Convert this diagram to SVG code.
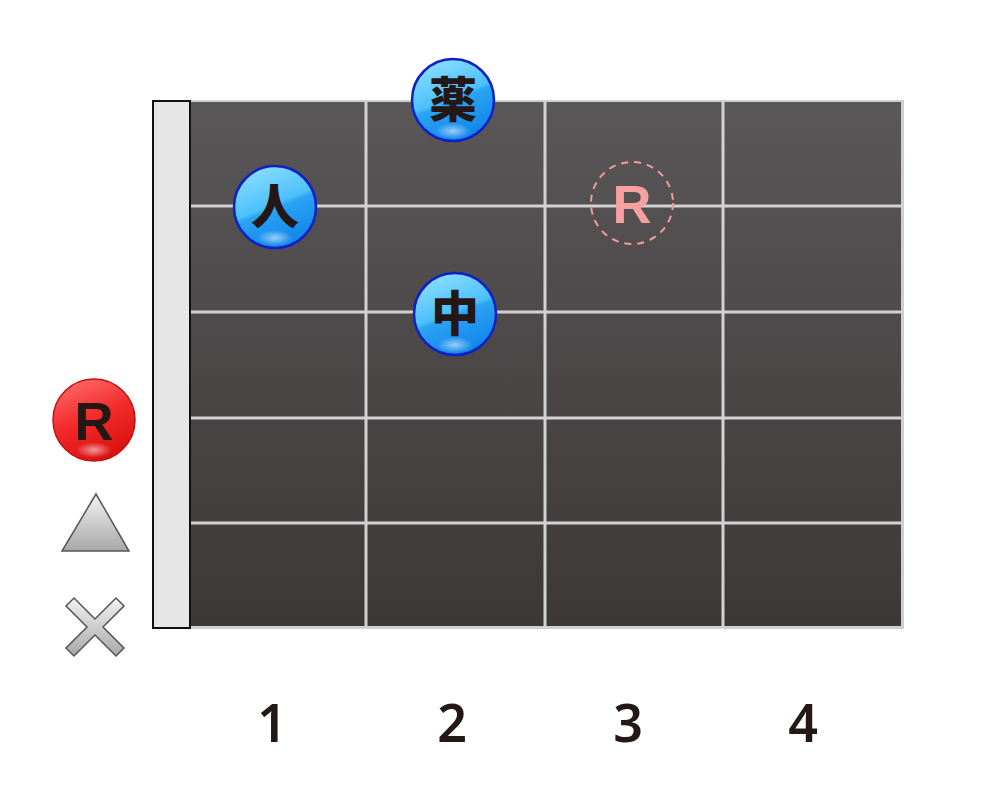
<svg xmlns="http://www.w3.org/2000/svg" width="1000" height="800" viewBox="0 0 1000 800">
<style>
.grid{stroke:#d2d2d2;stroke-width:3;fill:none}
.fing{fill:url(#blue);stroke:#1020c8;stroke-width:2.5}
.ft{font-family:"Noto Sans CJK JP","Noto Sans CJK SC",sans-serif;font-weight:900;font-size:48px;fill:#231815;text-anchor:middle}
.num{font-family:"Noto Sans","Liberation Sans",sans-serif;font-weight:600;font-size:52px;fill:#231815;text-anchor:middle}
.rt{font-family:"Liberation Sans",Arial,sans-serif;font-weight:bold;font-size:54px;text-anchor:middle}
</style>
<defs>
<linearGradient id="board" x1="0" y1="0" x2="0" y2="1">
<stop offset="0" stop-color="#5a5758"/>
<stop offset="1" stop-color="#3d3838"/>
</linearGradient>
<linearGradient id="blue" x1="0.2" y1="0" x2="0.6" y2="1">
<stop offset="0" stop-color="#8fe0ff"/>
<stop offset="0.5" stop-color="#4cc0fb"/>
<stop offset="0.55" stop-color="#2aa4f4"/>
<stop offset="1" stop-color="#1084ea"/>
</linearGradient>
<radialGradient id="glow" cx="0.5" cy="0.5" r="0.5">
<stop offset="0" stop-color="#ffffff" stop-opacity="0.55"/>
<stop offset="1" stop-color="#ffffff" stop-opacity="0"/>
</radialGradient>
<linearGradient id="red" x1="0.2" y1="0" x2="0.6" y2="1">
<stop offset="0" stop-color="#ff6a6a"/>
<stop offset="0.5" stop-color="#f22a2a"/>
<stop offset="1" stop-color="#d81010"/>
</linearGradient>
<linearGradient id="gray" x1="0" y1="0" x2="0" y2="1">
<stop offset="0" stop-color="#f2f2f2"/>
<stop offset="1" stop-color="#a8a8a8"/>
</linearGradient>
</defs>

<g id="board-g">
<rect x="188" y="100" width="716" height="529" fill="#cfcfcf"/>
<rect x="190" y="102" width="711" height="524" fill="url(#board)"/>
</g>
<g id="grid">
<line class="grid" x1="366" y1="100" x2="366" y2="629"/>
<line class="grid" x1="545" y1="100" x2="545" y2="629"/>
<line class="grid" x1="723" y1="100" x2="723" y2="629"/>
<line class="grid" x1="190" y1="206" x2="903" y2="206"/>
<line class="grid" x1="190" y1="312" x2="903" y2="312"/>
<line class="grid" x1="190" y1="418" x2="903" y2="418"/>
<line class="grid" x1="190" y1="523" x2="903" y2="523"/>
</g>
<g id="nut">
<rect x="153" y="101" width="37" height="527" fill="#e6e6e6" stroke="#111" stroke-width="2"/>
</g>

<g id="finger-hito">
<circle class="fing" cx="275" cy="207" r="41"/>
<ellipse cx="275" cy="238" rx="18" ry="8" fill="url(#glow)"/>
<text class="ft" x="275" y="224">人</text>
</g>
<g id="finger-kusuri">
<circle class="fing" cx="453" cy="100" r="41"/>
<ellipse cx="453" cy="131" rx="18" ry="8" fill="url(#glow)"/>
<text class="ft" x="453" y="117">薬</text>
</g>
<g id="finger-naka">
<circle class="fing" cx="455" cy="314" r="41"/>
<ellipse cx="455" cy="345" rx="18" ry="8" fill="url(#glow)"/>
<text class="ft" x="455" y="331">中</text>
</g>
<g id="root-dashed">
<circle cx="632" cy="203" r="41" fill="none" stroke="#f39a9a" stroke-width="2" stroke-dasharray="7,6"/>
<text class="rt" x="632" y="223" fill="#f6a0a0">R</text>
</g>

<g id="legend-root">
<circle cx="94" cy="420" r="41" fill="url(#red)" stroke="#c01010" stroke-width="1.5"/>
<ellipse cx="94" cy="450" rx="18" ry="8" fill="url(#glow)"/>
<text class="rt" x="94" y="440" fill="#231815">R</text>
</g>
<g id="legend-triangle">
<polygon points="96,494 62,551 129,551" fill="url(#gray)" stroke="#555" stroke-width="1.5"/>
</g>
<g id="legend-cross">
<polygon points="74,598 95,619 116,598 124,606 103,627 124,648 116,656 95,635 74,656 66,648 87,627 66,606" fill="url(#gray)" stroke="#555" stroke-width="1.5"/>
</g>

<g id="labels">
<text class="num" x="272" y="742">1</text>
<text class="num" x="452" y="742">2</text>
<text class="num" x="628" y="742">3</text>
<text class="num" x="803" y="742">4</text>
</g>
</svg>
